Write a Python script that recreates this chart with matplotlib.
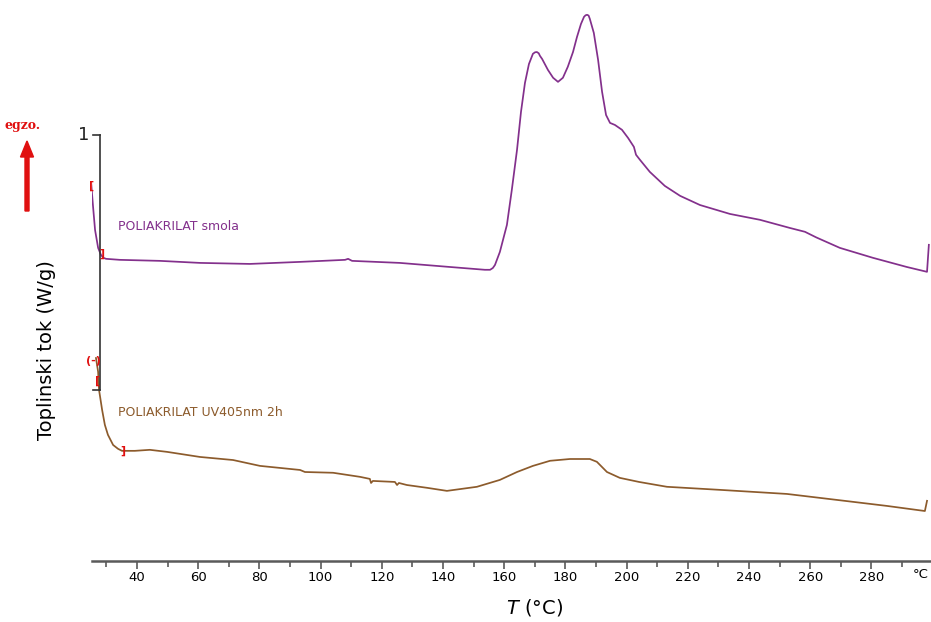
import numpy as np
import matplotlib
matplotlib.use('Agg')
import matplotlib.pyplot as plt

# ---------------- data
# POLIAKRILAT smola (T in °C, heat flow in W/g, shifted)
smola_T = [25.0, 25.6, 26.3, 27.3, 28.2, 29.0, 29.9, 34.4, 47.5, 60.6, 76.9, 93.3, 108.0, 109.0,
           110.3, 125.9, 142.3, 153.7, 155.4, 156.3, 157.0, 158.6, 160.9, 162.5, 164.2, 165.5,
           166.8, 168.1, 169.4, 170.1, 170.7, 171.3, 171.7, 172.4, 174.3, 176.0, 177.6, 179.2,
           180.8, 182.5, 183.8, 185.1, 186.1, 186.6, 187.1, 187.6, 188.0, 189.3, 190.7, 192.0,
           193.3, 194.6, 196.2, 198.5, 200.5, 202.4, 203.1, 204.4, 207.6, 212.5, 217.5, 224.0,
           233.8, 243.6, 253.4, 258.3, 262.0, 269.7, 280.5, 291.6, 298.2, 298.8]
smola_W = [0.816, 0.725, 0.627, 0.557, 0.530, 0.518, 0.514, 0.510, 0.506, 0.498, 0.494, 0.502,
           0.510, 0.514, 0.506, 0.498, 0.482, 0.471, 0.471, 0.478, 0.490, 0.541, 0.647, 0.784,
           0.941, 1.090, 1.204, 1.278, 1.318, 1.324, 1.325, 1.320, 1.310, 1.298, 1.255, 1.224,
           1.208, 1.224, 1.267, 1.325, 1.384, 1.435, 1.463, 1.469, 1.471, 1.468, 1.455, 1.400,
           1.294, 1.169, 1.078, 1.047, 1.039, 1.020, 0.988, 0.953, 0.922, 0.902, 0.855, 0.800,
           0.761, 0.725, 0.690, 0.667, 0.635, 0.620, 0.598, 0.557, 0.518, 0.482, 0.463, 0.569]

# POLIAKRILAT UV405nm 2h
uv_T = [26.6, 27.3, 27.6, 28.6, 29.5, 30.5, 32.2, 33.8, 35.1, 39.3, 44.2, 49.8, 60.6, 71.4,
        80.2, 93.3, 94.9, 104.1, 112.9, 116.1, 116.5, 117.1, 124.3, 125.0, 125.6, 128.2, 134.8,
        141.3, 151.1, 158.6, 164.2, 169.4, 175.0, 181.5, 188.0, 190.3, 193.6, 197.8, 204.1,
        213.2, 230.5, 252.4, 274.0, 285.1, 297.5, 298.2]
uv_W = [0.125, 0.071, 0.000, -0.078, -0.137, -0.176, -0.216, -0.231, -0.239, -0.239, -0.235,
        -0.243, -0.263, -0.275, -0.298, -0.314, -0.322, -0.325, -0.341, -0.349, -0.365, -0.357,
        -0.361, -0.373, -0.365, -0.373, -0.384, -0.396, -0.380, -0.353, -0.322, -0.298, -0.278,
        -0.271, -0.271, -0.282, -0.322, -0.345, -0.361, -0.380, -0.392, -0.408, -0.439, -0.455,
        -0.475, -0.435]

x_ticks = list(range(40, 290, 20))
scale_T = 27.9          # position of the 1 W/g scale bar
scale_W = [0, 1]

c_smola = '#83308c'
c_uv = '#8c5b2c'
grey = '#5a5a5a'

plt.rcParams['font.family'] = ['DejaVu Sans']

fig = plt.figure(figsize=(9.31, 6.22), dpi=100)
ax = fig.add_axes([92/931, 1-561/622, 839/931, 561/622])

ax.plot(smola_T, smola_W, color=c_smola, lw=1.25, solid_joinstyle='round')
ax.plot(uv_T, uv_W, color=c_uv, lw=1.25, solid_joinstyle='round')

# scale bar
ax.plot([scale_T, scale_T], scale_W, color='#333333', lw=1.2)
ax.plot([scale_T-2.2, scale_T], [scale_W[1]]*2, color='#333333', lw=1.2)
ax.plot([scale_T-2.2, scale_T], [scale_W[0]]*2, color='#333333', lw=1.2)
ax.text(scale_T-3.3, scale_W[1], '1', ha='right', va='center', fontsize=13, color='#222222')

# red integration brackets
for tx, ty, s in [(25.0, 0.80, '['), (28.4, 0.535, ']'), (25.8, 0.115, '(-)'),
                  (27.1, 0.035, '['), (35.5, -0.24, ']')]:
    ax.text(tx, ty, s, color='#e01010', fontsize=8, fontweight='bold', ha='center', va='center')

ax.set_xlim(25.3, 299.5)
ax.set_ylim(-0.671, 1.529)
ax.set_xticks(x_ticks)
ax.set_xticks(range(30, 300, 10), minor=True)
ax.set_yticks([])
for s in ['left', 'right', 'top']:
    ax.spines[s].set_visible(False)
ax.spines['bottom'].set_color(grey)
ax.spines['bottom'].set_linewidth(1.8)
ax.tick_params(axis='x', which='major', length=6, width=1.2, color=grey, pad=1, labelsize=9.5)
ax.tick_params(axis='x', which='minor', length=4, width=1.2, color=grey)
ax.patch.set_visible(False)

fig.text(921/931, 1-574/622, '°C', ha='center', va='center', fontsize=9.5)

fig.text(535/931, 1-607/622, r'$T$ (°C)', ha='center', va='center', fontsize=14)
fig.text(47/931, 1-350/622, 'Toplinski tok (W/g)', ha='center', va='center', fontsize=14, rotation=90)

fig.text(118/931, 1-227/622, 'POLIAKRILAT smola', color=c_smola, fontsize=9, ha='left', va='center')
fig.text(118/931, 1-413/622, 'POLIAKRILAT UV405nm 2h', color=c_uv, fontsize=9, ha='left', va='center')

# exo arrow
fig.text(23/931, 1-125/622, 'egzo.', color='#e01010', fontsize=9, fontweight='bold',
         family='DejaVu Serif', ha='center', va='center')
fig.patches.append(matplotlib.patches.FancyArrow(27/931, 1-211/622, 0, 70/622, width=4/931,
                                                 head_width=13/931, head_length=16/622,
                                                 length_includes_head=True, color='#e01010',
                                                 transform=fig.transFigure, figure=fig))

fig.savefig('out.png', dpi=100)
